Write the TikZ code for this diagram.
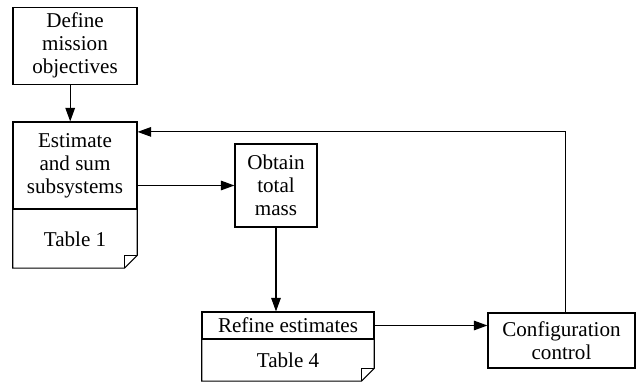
\documentclass[tikz,border=0pt]{standalone}
\usepackage{fontspec}
\setmainfont{Liberation Serif}
\usetikzlibrary{arrows.meta,positioning}

\begin{document}
\begin{tikzpicture}[
    box/.style={draw, line width=0.8pt, align=center, inner sep=0pt},
    tab/.style={align=center, inner sep=0pt},
    flow/.style={-{Triangle[length=3.4mm,width=2.4mm]}, line width=0.8pt},
    every node/.style={font=\fontsize{15}{16.5}\selectfont}
  ]
  \useasboundingbox (0,0) rectangle (15.95,9.55);
  \node[box, minimum width=3.1cm, minimum height=1.925cm] (define) at (1.875,8.41) {Define\\mission\\objectives};
  \node[box, minimum width=3.1cm, minimum height=2.175cm] (estimate) at (1.875,5.4125) {Estimate\\and sum\\subsystems};
  \node[tab, minimum width=3.1cm, minimum height=1.45cm, below=0pt of estimate] (table1) {Table 1};
  \node[box, minimum width=2.05cm, minimum height=2.075cm] (obtain) at (6.9,4.9125) {Obtain\\total\\mass};
  \node[box, minimum width=4.3cm, minimum height=0.675cm] (refine) at (7.2,1.4125) {Refine estimates};
  \node[tab, minimum width=4.3cm, minimum height=1.025cm, below=0pt of refine] (table4) {Table 4};
  \node[box, minimum width=3.675cm, minimum height=1.375cm] (config) at (14.0375,1.0375) {Configuration\\control};
  % sheets with a folded corner
  \foreach \t in {table1,table4} {
    \draw[line width=0.8pt] (\t.north west) -- (\t.south west) -- ([xshift=-0.32cm]\t.south east)
      -- ([yshift=0.32cm]\t.south east) -- (\t.north east);
    \draw[line width=0.8pt] ([xshift=-0.32cm]\t.south east) -- ([shift={(-0.32cm,0.32cm)}]\t.south east)
      -- ([yshift=0.32cm]\t.south east);
  }
  % flow
  \draw[flow] ([xshift=-0.12cm]define.south) -- ([xshift=-0.12cm]estimate.north);
  \draw[flow] (estimate.east |- obtain.west) -- (obtain.west);
  \draw[flow] (obtain.south) -- (obtain.south |- refine.north);
  \draw[flow] (refine.east) -- (refine.east -| config.west);
  \draw[flow] ([xshift=0.09cm]config.north) |- ([yshift=0.84cm]estimate.east);
\end{tikzpicture}
\end{document}
